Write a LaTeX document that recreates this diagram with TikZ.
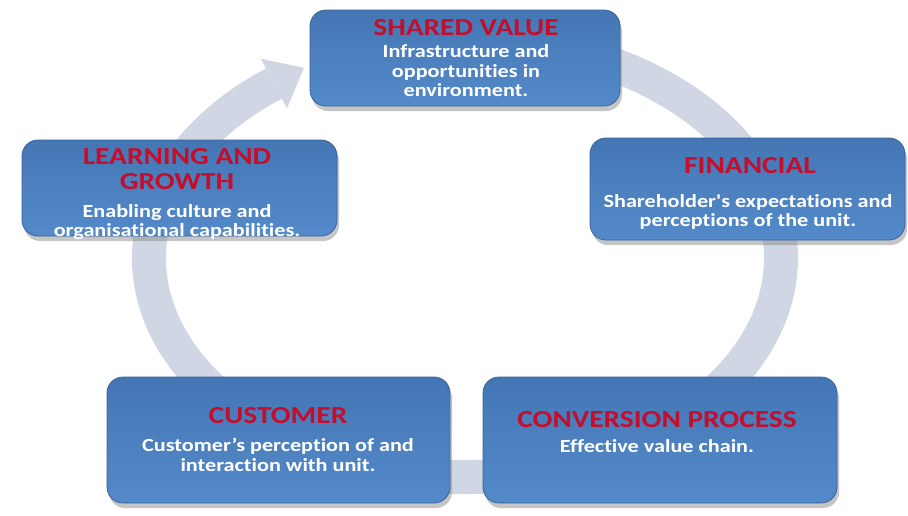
\documentclass[tikz,border=0pt]{standalone}
\usepackage{fontspec}
\setmainfont{Carlito}[FakeStretch=1.2, Ligatures={TeX,NoCommon}]
\newfontfamily\straightq{Carlito}[FakeStretch=1.2, Ligatures=NoCommon]
\usetikzlibrary{shadows}
\definecolor{boxtop}{RGB}{68,118,180}
\definecolor{boxbot}{RGB}{84,138,202}
\definecolor{boxedge}{RGB}{56,98,156}
\definecolor{ringc}{RGB}{208,214,228}
\definecolor{titlered}{RGB}{196,14,44}
\begin{document}
\begin{tikzpicture}[x=1pt,y=-1pt,
  card/.style={rounded corners=16pt, top color=boxtop, bottom color=boxbot, draw=boxedge, line width=0.8pt,
    drop shadow={shadow xshift=2pt,shadow yshift=-5pt,fill=black!45}, inner sep=0pt},
  ttl/.style={text=titlered, font=\bfseries\fontsize{24.5}{25}\selectfont, inner sep=0pt, align=center},
  bdy/.style={text=white, font=\bfseries\fontsize{18.5}{19.5}\selectfont, inner sep=0pt, align=center},
  ring/.style={draw=ringc, line width=34pt},
  ringhead/.style={fill=ringc, draw=none},
]
\useasboundingbox (0,0) rectangle (908,515);
\fill[white] (0,0) rectangle (908,515);
% cycle ring
\draw[ring] (465,258) ++(280:316 and 219) arc[start angle=280, end angle=592.8, x radius=316, y radius=219] coordinate (ringend);
\fill[ringhead] (260.9,58.8) -- (304,67.8) -- (286.9,108.4) -- cycle;
% boxes
\node[card, minimum width=310pt, minimum height=96pt] (sv) at (465,58) {};
\node[card, minimum width=315pt, minimum height=102pt] (fin) at (747.5,189) {};
\node[card, minimum width=354pt, minimum height=126pt] (conv) at (660,440) {};
\node[card, minimum width=343pt, minimum height=126pt] (cust) at (278.5,440) {};
\node[card, minimum width=315pt, minimum height=96pt] (lg) at (179.5,188) {};
% texts
\node[ttl] (svt) at (466,28) {SHARED VALUE};
\node[bdy] (svb) at (466,71) {Infrastructure and\\opportunities in\\environment.};
\node[ttl] (fint) at (750,166) {FINANCIAL};
\node[bdy] (finb) at (748,212) {Shareholder{\straightq\bfseries '}s expectations and\\perceptions of the unit.};
\node[ttl] (convt) at (657,420) {CONVERSION PROCESS};
\node[bdy] (convb) at (657,446) {Effective value chain.};
\node[ttl] (custt) at (278,416) {CUSTOMER};
\node[bdy] (custb) at (278,455) {Customer's perception of and\\interaction with unit.};
\node[ttl] (lgt) at (177,169) {LEARNING AND\\GROWTH};
\node[bdy] (lgb) at (177,222) {Enabling culture and\\organisational capabilities.};
\end{tikzpicture}
\end{document}
